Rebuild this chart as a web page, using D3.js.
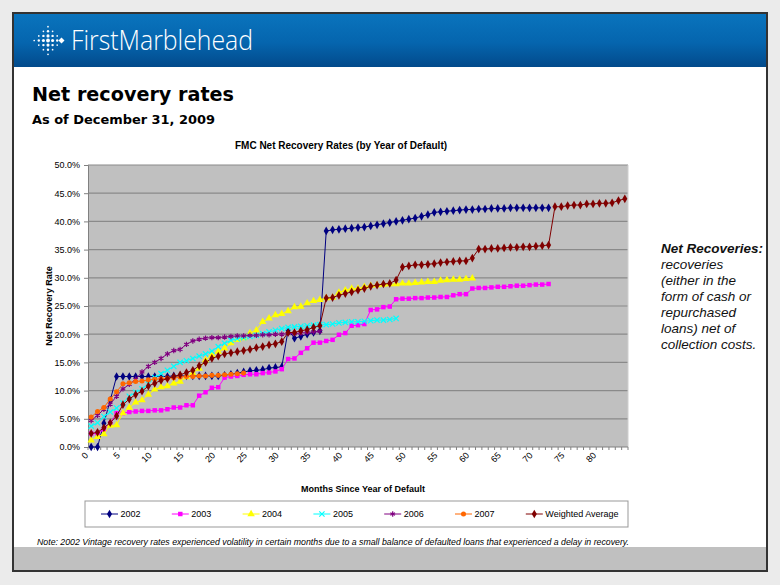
<!DOCTYPE html>
<html><head><meta charset="utf-8">
<script src="https://cdn.jsdelivr.net/npm/d3@7"></script>
<style>body{margin:0;background:#ebebeb;} svg{display:block;}</style>
</head><body><svg id="c" width="780" height="585"></svg>
<script>
// ---- data (values in percent, index = months since year of default) ----
const s2002 = [0,0,4.2,8.3,12.5,12.5,12.5,12.5,12.5,12.5,12.5,12.5,12.5,12.6,12.6,12.6,12.6,12.6,12.6,12.6,12.6,12.7,12.9,13.1,13.3,13.5,13.6,13.7,14.0,14.1,14.2,20.7,19.3,19.6,20.0,20.3,20.6,
  38.3,38.5,38.6,38.7,38.8,38.9,39.0,39.2,39.4,39.6,39.8,40.0,40.2,40.4,40.6,40.9,41.2,41.6,41.7,41.8,41.9,42.0,42.1,42.1,42.2,42.2,42.3,42.3,42.3,42.4,42.4,42.4,42.4,42.4,42.4,42.4];
const s2003 = [2.4,2.4,3.1,4.2,6.0,6.0,6.2,6.3,6.4,6.4,6.5,6.5,6.7,7.0,7.0,7.4,7.4,
  9.1,9.7,10.5,10.6,12.3,12.5,12.6,12.8,12.9,12.9,13.1,13.2,13.4,13.8,
  15.6,15.7,16.7,17.5,18.5,18.5,18.8,19.0,19.9,20.2,
  21.5,21.6,21.8,24.3,24.4,24.8,24.9,26.2,26.3,26.3,
  26.4,26.4,26.5,26.5,26.6,26.6,26.9,27.1,27.1,28.1,
  28.2,28.2,28.3,28.4,28.4,28.5,28.6,28.6,28.7,28.8,28.8,28.9];
const s2004 = [1.2,1.8,2.3,3.8,3.9,6.0,7.0,7.9,8.3,9.3,
  10.2,10.6,10.8,11.3,11.6,12.4,13.1,13.9,15.4,16.3,
  16.9,17.5,18.4,19.0,19.3,20.2,20.7,22.2,22.8,23.4,
  23.6,24.1,24.8,24.9,25.5,25.9,26.1,26.4,26.5,27.4,
  27.8,28.1,28.1,28.4,28.6,28.7,28.8,28.9,28.9,29.0,
  29.0,29.1,29.2,29.3,29.3,29.5,29.6,29.7,29.7,29.8,29.9];
const s2005 = [3.7,4.3,5.4,6.2,6.9,7.8,9.0,9.7,10.3,11.2,
  12.3,13.0,13.6,14.3,15.0,15.3,15.7,16.1,16.5,17.0,
  17.8,18.4,18.9,19.2,19.4,19.6,19.8,20.1,20.4,20.7,
  21.0,21.2,21.3,21.4,21.5,21.6,21.7,21.7,21.8,22.0,
  22.1,22.2,22.2,22.3,22.4,22.5,22.5,22.6,22.8];
const s2006 = [4.7,5.6,6.7,7.6,9.0,10.3,11.1,12.0,13.3,14.3,
  15.0,15.7,16.5,17.1,17.3,18.2,18.8,19.1,19.3,19.4,
  19.4,19.5,19.6,19.7,19.7,19.8,19.8,19.9,19.9,20.0,
  20.0,20.1,20.1,20.2,20.3,20.4,20.5];
const s2007 = [5.3,6.3,7.0,8.5,9.8,11.2,11.4,11.6,11.7,11.9,12.0,12.1,12.2,12.3,12.4,12.5,12.5,12.6,12.6,12.7,12.7,12.8,12.9,13.0,13.1];
const sWavg = [2.4,2.6,3.4,4.3,5.5,7.5,8.5,9.3,9.9,10.8,
  11.3,11.8,12.1,12.5,12.8,13.2,13.6,14.4,15.0,15.7,
  16.1,16.5,16.7,16.9,17.1,17.3,17.6,17.8,18.1,18.3,
  18.7,20.3,20.3,20.6,20.8,21.2,21.5,26.4,26.5,26.9,
  27.2,27.5,27.8,28.1,28.5,28.7,28.9,29.0,29.6,31.9,
  32.1,32.3,32.3,32.4,32.5,32.7,32.8,32.9,33.0,33.0,
  33.5,35.1,35.1,35.2,35.2,35.3,35.4,35.4,35.5,35.5,
  35.6,35.7,35.8,42.6,42.6,42.8,42.9,42.9,43.1,43.1,
  43.2,43.2,43.3,43.7,44.0];
const seriesNames = ["2002","2003","2004","2005","2006","2007","Weighted Average"];
const xTickLabels = ["0","5","10","15","20","25","30","35","40","45","50","55","60","65","70","75","80"];
const yTicks = [0,5,10,15,20,25,30,35,40,45,50];
const monthCount = 85;

const colors = ["#000080","#ff00ff","#ffff00","#00ffff","#800080","#ff6600","#800000"];
const shapes = [
  {t:d3.symbolDiamond,s:22,fill:true},
  {t:d3.symbolSquare,s:20,fill:true},
  {t:d3.symbolTriangle,s:24,fill:true},
  {t:d3.symbolTimes,s:20,fill:false},
  {t:d3.symbolAsterisk,s:20,fill:false},
  {t:d3.symbolCircle,s:20,fill:true},
  {t:d3.symbolDiamond,s:22,fill:true}
];
const allSeries = [s2002,s2003,s2004,s2005,s2006,s2007,sWavg];

const svg = d3.select("#c");
const font = "'Liberation Sans', Arial, sans-serif";

// ---- slide frame ----
const defs = svg.append("defs");
const g1 = defs.append("linearGradient").attr("id","hdr").attr("x1",0).attr("y1",0).attr("x2",0).attr("y2",1);
g1.append("stop").attr("offset","0%").attr("stop-color","#0a74bd");
g1.append("stop").attr("offset","55%").attr("stop-color","#0565ae");
g1.append("stop").attr("offset","100%").attr("stop-color","#024a8b");

svg.append("rect").attr("x",13).attr("y",13).attr("width",754).attr("height",558).attr("fill","#ffffff");
svg.append("rect").attr("x",13).attr("y",13).attr("width",754).attr("height",54).attr("fill","url(#hdr)");
svg.append("rect").attr("x",13).attr("y",547).attr("width",754).attr("height",24).attr("fill","#c0c0c0");
svg.append("rect").attr("x",13).attr("y",13).attr("width",754).attr("height",558).attr("fill","none").attr("stroke","#333").attr("stroke-width",2);

// logo dots
const dots = [];
for (let c=-3;c<=3;c++) for (let r=-3;r<=3;r++) {
  if ((Math.abs(c)<=1 && Math.abs(r)<=3) || (Math.abs(r)<=1 && Math.abs(c)<=3)) {
    if (Math.abs(c)+Math.abs(r) <= 3) dots.push({c,r});
  }
}
svg.append("g").selectAll("circle").data(dots).join("circle")
  .attr("cx",d=>48+d.c*4.6).attr("cy",d=>40.5+d.r*4.6)
  .attr("r",d=>Math.max(0.8, 1.9-0.35*(Math.abs(d.c)+Math.abs(d.r))))
  .attr("fill","#ffffff");
svg.append("path").attr("d","M58.5,40.5 L61.5,37.5 L64.5,40.5 L61.5,43.5 Z").attr("fill","#ffffff");

svg.append("text").attr("x",71).attr("y",50).attr("fill","#fff")
  .attr("font-family","'Open Sans', 'Noto Sans', sans-serif").attr("font-weight",300).attr("font-size",27)
  .attr("textLength",182).attr("lengthAdjust","spacingAndGlyphs").text("FirstMarblehead");

// titles
svg.append("text").attr("x",32).attr("y",101).attr("font-family","'DejaVu Sans', Verdana, sans-serif")
  .attr("font-weight","bold").attr("font-size",19).attr("textLength",202).attr("lengthAdjust","spacingAndGlyphs")
  .text("Net recovery rates");
svg.append("text").attr("x",32).attr("y",124).attr("font-family","'DejaVu Sans', Verdana, sans-serif")
  .attr("font-weight","bold").attr("font-size",13).attr("textLength",183).attr("lengthAdjust","spacingAndGlyphs")
  .text("As of December 31, 2009");

// side note
const side = svg.append("g").attr("font-family",font).attr("font-style","italic").attr("font-size",13.5).attr("fill","#111");
side.append("text").attr("x",661).attr("y",253).attr("font-weight","bold").text("Net Recoveries:");
["recoveries","(either in the","form of cash or","repurchased","loans) net of","collection costs."].forEach((t,i)=>{
  side.append("text").attr("x",661).attr("y",269+i*15.9).text(t);
});

// ---- chart ----
const L=88,R=628,T=165,B=447;
const x = d3.scaleLinear().domain([-0.5, monthCount-0.5]).range([L,R]);
const y = d3.scaleLinear().domain([0,50]).range([B,T]);

svg.append("text").attr("x",341).attr("y",149).attr("text-anchor","middle").attr("font-family",font)
  .attr("font-weight","bold").attr("font-size",10).text("FMC Net Recovery Rates (by Year of Default)");

svg.append("rect").attr("x",L).attr("y",T).attr("width",R-L).attr("height",B-T).attr("fill","#c0c0c0");
const grid = svg.append("g");
grid.selectAll("line").data(yTicks.filter(v=>v>0)).join("line")
  .attr("x1",L).attr("x2",R).attr("y1",d=>y(d)).attr("y2",d=>y(d)).attr("stroke","#8a8a8a").attr("stroke-width",1.2);
svg.append("line").attr("x1",R).attr("x2",R).attr("y1",T).attr("y2",B).attr("stroke","#d0d0d0");

// y axis
const yAxis = d3.axisLeft(y).tickValues(yTicks).tickSize(4).tickFormat(d=>d3.format(".1f")(d)+"%");
const ya = svg.append("g").attr("transform",`translate(${L},0)`).call(yAxis);
ya.select(".domain").attr("stroke","#808080");
ya.selectAll(".tick line").attr("stroke","#808080");
ya.selectAll("text").attr("font-family",font).attr("font-size",9).attr("fill","#000").attr("dx",-1);

// x axis: small ticks at category boundaries, labels every 5
const xa = svg.append("g");
xa.append("line").attr("x1",L).attr("x2",R).attr("y1",B).attr("y2",B).attr("stroke","#808080");
xa.selectAll("line.t").data(d3.range(0,monthCount+1)).join("line").attr("class","t")
  .attr("x1",d=>x(d-0.5)).attr("x2",d=>x(d-0.5)).attr("y1",B).attr("y2",B+3).attr("stroke","#808080");
xa.selectAll("text").data(xTickLabels).join("text")
  .attr("transform",d=>`translate(${x(+d)-2.5},${B+9}) rotate(-45)`)
  .attr("text-anchor","end").attr("font-family",font).attr("font-size",9).text(d=>d);

svg.append("text").attr("x",363).attr("y",492).attr("text-anchor","middle").attr("font-family",font)
  .attr("font-weight","bold").attr("font-size",9).text("Months Since Year of Default");
svg.append("text").attr("transform","translate(52,306) rotate(-90)").attr("text-anchor","middle")
  .attr("font-family",font).attr("font-weight","bold").attr("font-size",9).text("Net Recovery Rate");

// series
const line = d3.line().x((d,i)=>x(i)).y(d=>y(d));
allSeries.forEach((vals,k)=>{
  const g = svg.append("g");
  g.append("path").attr("d",line(vals)).attr("fill","none").attr("stroke",colors[k]).attr("stroke-width",1);
  const sym = d3.symbol().type(shapes[k].t).size(shapes[k].s);
  g.selectAll("path.m").data(vals).join("path").attr("class","m")
    .attr("transform",(d,i)=>`translate(${x(i)},${y(d)})`).attr("d",sym)
    .attr("fill",shapes[k].fill?colors[k]:"none")
    .attr("stroke",shapes[k].fill?"none":colors[k]).attr("stroke-width",1.2);
});

// legend
svg.append("rect").attr("x",85).attr("y",501).attr("width",543).attr("height",26).attr("fill","#fff").attr("stroke","#999");
seriesNames.forEach((n,k)=>{
  const x0 = 101 + k*70.8, yy = 514;
  const g = svg.append("g");
  g.append("line").attr("x1",x0).attr("x2",x0+17).attr("y1",yy).attr("y2",yy).attr("stroke",colors[k]);
  g.append("path").attr("transform",`translate(${x0+8.5},${yy})`).attr("d",d3.symbol().type(shapes[k].t).size(shapes[k].s))
    .attr("fill",shapes[k].fill?colors[k]:"none").attr("stroke",shapes[k].fill?"none":colors[k]).attr("stroke-width",1.2);
  g.append("text").attr("x",x0+19.5).attr("y",yy+3.3).attr("font-family",font).attr("font-size",9).text(n);
});

// footnote
svg.append("text").attr("x",37).attr("y",544.5).attr("font-family",font).attr("font-style","italic").attr("font-size",8.5)
  .attr("textLength",592).attr("lengthAdjust","spacingAndGlyphs")
  .text("Note: 2002 Vintage recovery rates experienced volatility in certain months due to a small balance of defaulted loans that experienced a delay in recovery.");
</script></body></html>
